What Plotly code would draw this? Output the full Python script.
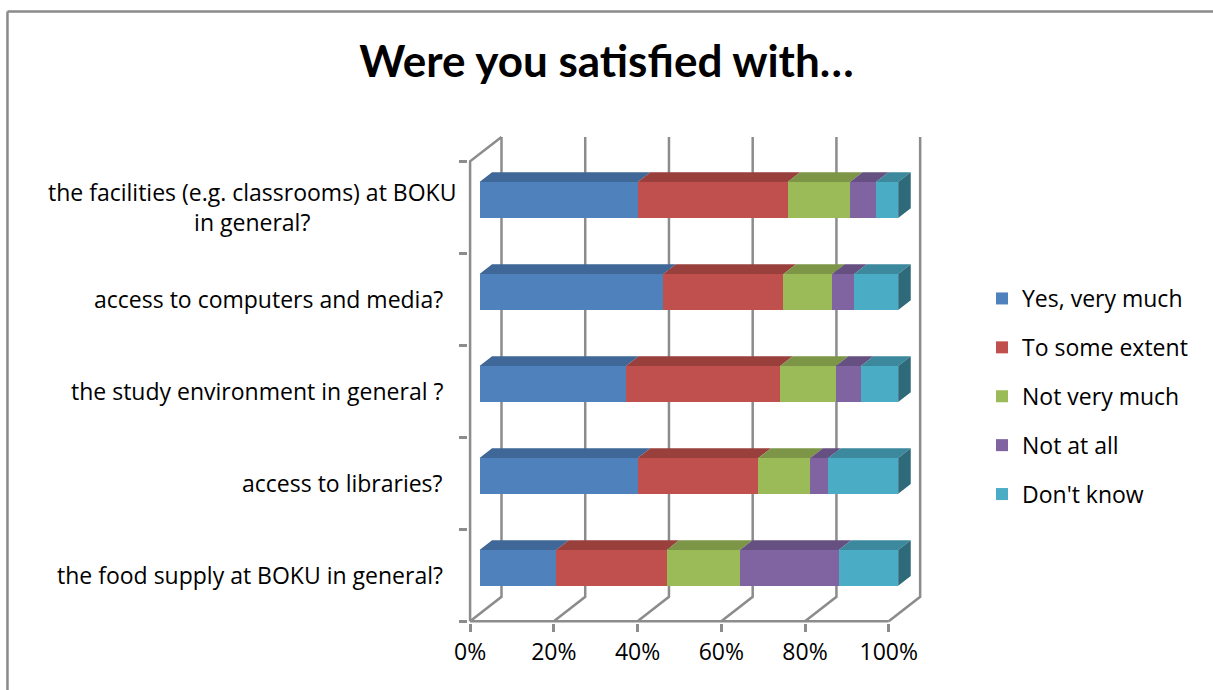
import plotly.graph_objects as go

# ---- data -------------------------------------------------------------
categories = [
    "the food supply at BOKU in general?",
    "access to libraries?",
    "the study environment in general ?",
    "access to computers and media?",
    "the facilities (e.g. classrooms) at BOKU<br>in general?",
]
series_names = ["Yes, very much", "To some extent", "Not very much", "Not at all", "Don't know"]

yes_very_much = [18.3, 37.8, 35.0, 43.9, 37.8]
to_some_extent = [26.4, 28.8, 36.8, 28.7, 35.8]
not_very_much = [17.5, 12.4, 13.3, 11.6, 14.9]
not_at_all = [23.6, 4.3, 6.0, 5.3, 6.2]
dont_know = [14.2, 16.7, 8.9, 10.5, 5.3]

x_tick_values = [0, 20, 40, 60, 80, 100]
x_tick_labels = ["0%", "20%", "40%", "60%", "80%", "100%"]

title_text = "Were you satisfied with…"

# ---- styling ----------------------------------------------------------
FONT = "Open Sans"
TITLE_FONT = "Lato"
TEXT_SIZE = 23
GRID = "#8c8c8c"
front_colors = ["#4F81BD", "#C0504D", "#9BBB59", "#8064A2", "#4BACC6"]


def shade(hex_color, f):
    h = hex_color.lstrip("#")
    r, g, b = (int(h[i:i + 2], 16) for i in (0, 2, 4))
    return "rgb({},{},{})".format(int(r * f), int(g * f), int(b * f))


top_colors = [shade(c, 0.8) for c in front_colors]
side_colors = [shade(c, 0.62) for c in front_colors]

# oblique projection of the 3-D box: one unit of depth moves a point this far
DEPTH_X = 7.5     # in % along the value axis
DEPTH_Y = 0.265   # in category units
BAR_D0, BAR_D1 = 0.3, 0.7   # front/back of the bars inside the box depth
BAR_H = 0.39                # bar thickness in category units

# page geometry (pixels)
W_PX, H_PX = 1213, 690
PX_PER_X, PX_PER_Y = 4.19, 92.0
X0_PX, Y0_PX = 470.0, 575.0          # where value 0 / category 0 land
X_RANGE = [-0.5, 112.0]
Y_RANGE = [-0.52, 4.95]
m_l = X0_PX + X_RANGE[0] * PX_PER_X
m_r = W_PX - (X0_PX + X_RANGE[1] * PX_PER_X)
m_t = Y0_PX - Y_RANGE[1] * PX_PER_Y
m_b = H_PX - (Y0_PX - Y_RANGE[0] * PX_PER_Y)
plot_w = W_PX - m_l - m_r
plot_h = H_PX - m_t - m_b


def paper_x(px):
    return (px - m_l) / plot_w


def paper_y(py):
    return (H_PX - m_b - py) / plot_h


series = [yes_very_much, to_some_extent, not_very_much, not_at_all, dont_know]
cat_pos = list(range(len(categories)))
n_cat = len(categories)
floor_y = -0.5
top_y = n_cat - 0.5

fig = go.Figure()

# cumulative starts of each stacked segment
starts = []
running = [0.0] * n_cat
for vals in series:
    starts.append(list(running))
    running = [a + b for a, b in zip(running, vals)]

# front faces
for k, (name, vals) in enumerate(zip(series_names, series)):
    fig.add_trace(go.Bar(
        orientation="h",
        name=name,
        legendgroup=name,
        y=[c + BAR_D0 * DEPTH_Y for c in cat_pos],
        x=vals,
        base=[s + BAR_D0 * DEPTH_X for s in starts[k]],
        width=BAR_H,
        marker=dict(color=front_colors[k], line=dict(width=0)),
        hoverinfo="name+x",
    ))

# top faces
for k, (name, vals) in enumerate(zip(series_names, series)):
    xs, ys = [], []
    for c, s, v in zip(cat_pos, starts[k], vals):
        e = s + v
        yf = c + BAR_D0 * DEPTH_Y + BAR_H / 2
        yb = c + BAR_D1 * DEPTH_Y + BAR_H / 2
        xs += [s + BAR_D0 * DEPTH_X, e + BAR_D0 * DEPTH_X, e + BAR_D1 * DEPTH_X, s + BAR_D1 * DEPTH_X,
               s + BAR_D0 * DEPTH_X, None]
        ys += [yf, yf, yb, yb, yf, None]
    fig.add_trace(go.Scatter(
        x=xs, y=ys, mode="lines", fill="toself", fillcolor=top_colors[k],
        line=dict(width=0, color=top_colors[k]), showlegend=False,
        legendgroup=name, hoverinfo="skip",
    ))

# right end faces of the last segment
k = len(series) - 1
xs, ys = [], []
for c, s, v in zip(cat_pos, starts[k], series[k]):
    e = s + v
    y_lo = c - BAR_H / 2
    y_hi = c + BAR_H / 2
    xs += [e + BAR_D0 * DEPTH_X, e + BAR_D1 * DEPTH_X, e + BAR_D1 * DEPTH_X, e + BAR_D0 * DEPTH_X,
           e + BAR_D0 * DEPTH_X, None]
    ys += [y_lo + BAR_D0 * DEPTH_Y, y_lo + BAR_D1 * DEPTH_Y, y_hi + BAR_D1 * DEPTH_Y, y_hi + BAR_D0 * DEPTH_Y,
           y_lo + BAR_D0 * DEPTH_Y, None]
fig.add_trace(go.Scatter(
    x=xs, y=ys, mode="lines", fill="toself", fillcolor=side_colors[k],
    line=dict(width=0, color=side_colors[k]), showlegend=False,
    legendgroup=series_names[k], hoverinfo="skip",
))

# box: floor / back-wall gridlines, left wall, front floor edge
shapes = []
grid_line = dict(color=GRID, width=2.5)
for p in x_tick_values:
    shapes.append(dict(
        type="path", layer="below", xref="x", yref="y", line=grid_line,
        path="M {},{} L {},{} L {},{}".format(p, floor_y, p + DEPTH_X, floor_y + DEPTH_Y,
                                              p + DEPTH_X, top_y + DEPTH_Y),
    ))
shapes.append(dict(
    type="path", layer="below", xref="x", yref="y", line=grid_line,
    path="M 0,{} L 0,{} L {},{}".format(floor_y, top_y, DEPTH_X, top_y + DEPTH_Y),
))
shapes.append(dict(
    type="line", layer="below", xref="x", yref="y", line=grid_line,
    x0=0, x1=x_tick_values[-1], y0=floor_y, y1=floor_y,
))
# chart frame (left and top edges)
frame = dict(color="#8a8a8a", width=2.5)
shapes.append(dict(type="line", xref="paper", yref="paper", line=frame,
                   x0=paper_x(7), x1=paper_x(7), y0=paper_y(11), y1=paper_y(H_PX + 5)))
shapes.append(dict(type="line", xref="paper", yref="paper", line=frame,
                   x0=paper_x(7), x1=paper_x(W_PX + 5), y0=paper_y(11), y1=paper_y(11)))

# category labels
annotations = []
for c, label in zip(cat_pos, categories):
    right_px = 458 if "<br>" in label else 445
    annotations.append(dict(
        xref="paper", yref="y", x=paper_x(right_px), y=c, xanchor="right", yanchor="middle",
        text=label, showarrow=False, align="center",
        font=dict(family=FONT, size=TEXT_SIZE, color="#000000"),
    ))

fig.update_layout(
    width=W_PX, height=H_PX,
    margin=dict(l=m_l, r=m_r, t=m_t, b=m_b, pad=0, autoexpand=False),
    paper_bgcolor="white", plot_bgcolor="white",
    barmode="overlay",
    bargap=0,
    title=dict(text="<b>" + title_text + "</b>", x=0.5, xanchor="center", xref="container",
               y=1 - 62 / H_PX, yanchor="middle", yref="container",
               font=dict(family=TITLE_FONT, size=44, color="#000000")),
    xaxis=dict(range=X_RANGE, tickvals=x_tick_values, ticktext=x_tick_labels,
               ticks="outside", ticklen=8, tickwidth=2.5, tickcolor=GRID,
               showgrid=False, zeroline=False, showline=False, fixedrange=True,
               tickfont=dict(family=FONT, size=TEXT_SIZE, color="#000000")),
    yaxis=dict(range=Y_RANGE, tickvals=[v - 0.5 for v in range(n_cat + 1)],
               ticks="outside", ticklen=8, tickwidth=2.5, tickcolor=GRID,
               showticklabels=False, showgrid=False, zeroline=False, showline=False,
               fixedrange=True),
    legend=dict(xref="container", yref="container", x=982 / W_PX,
                y=1 - 277 / H_PX, xanchor="left", yanchor="top",
                traceorder="grouped", tracegroupgap=16,
                font=dict(family=FONT, size=TEXT_SIZE, color="#000000"),
                bgcolor="rgba(0,0,0,0)"),
    shapes=shapes,
    annotations=annotations,
    showlegend=True,
)

fig.write_html("out.html")
